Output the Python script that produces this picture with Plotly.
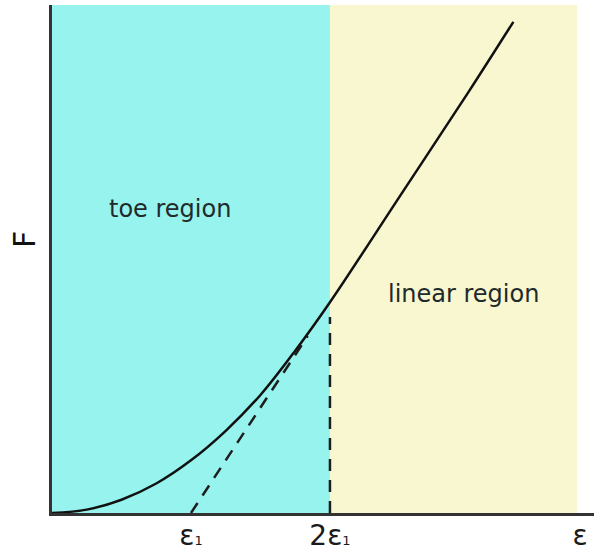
import plotly.graph_objects as go

# Force–strain curve (strain in units of ε1, force in units of F(2ε1))
strain = [0.0, 0.25, 0.5, 0.75, 1.0, 1.25, 1.5, 1.75, 2.0, 2.5, 3.0, 3.32]
force = [0.0, 0.016, 0.063, 0.14, 0.25, 0.39, 0.56, 0.77, 1.0, 1.5, 2.0, 2.33]

# Tangent (dashed) from ε1 towards 2ε1
tangent_strain = [1.0, 1.84]
tangent_force = [0.0, 0.84]

# Vertical dashed marker at 2ε1
marker_strain = [2.0, 2.0]
marker_force = [0.0, 0.93]

# Regions
region_names = ["toe region", "linear region"]
region_start = [0.0, 2.0]
region_end = [2.0, 3.78]
region_colors = ["#97F3EE", "#F8F7D0"]
label_pos_x = [0.85, 2.96]
label_pos_y = [1.44, 1.04]

tick_vals = [1.0, 2.0, 3.8]
tick_text = [
    "ε<span style='font-size:13px'>1</span>",
    "2ε<span style='font-size:13px'>1</span>",
    "ε",
]

fig = go.Figure()

fig.add_trace(go.Scatter(
    x=tangent_strain, y=tangent_force, mode="lines",
    line=dict(color="#1e1e1e", width=2.5, dash="12px,9px"),
    hoverinfo="skip", showlegend=False))
fig.add_trace(go.Scatter(
    x=marker_strain, y=marker_force, mode="lines",
    line=dict(color="#1e1e1e", width=2.5, dash="12px,9px"),
    hoverinfo="skip", showlegend=False))
fig.add_trace(go.Scatter(
    x=strain, y=force, mode="lines",
    line=dict(color="#111111", width=2.5, shape="spline", smoothing=1.0),
    showlegend=False))

for x0, x1, c in zip(region_start, region_end, region_colors):
    fig.add_shape(type="rect", xref="x", yref="paper", x0=x0, x1=x1, y0=0, y1=1,
                  fillcolor=c, line=dict(width=0), layer="below")

for name, lx, ly in zip(region_names, label_pos_x, label_pos_y):
    fig.add_annotation(x=lx, y=ly, xref="x", yref="y", text=name, showarrow=False,
                       font=dict(family="DejaVu Sans", size=24, color="#1f2a2a"))

fig.add_annotation(x=-27 / 542, y=(513 - 240) / 508, xref="paper", yref="paper",
                   xanchor="center", yanchor="middle",
                   text="F", textangle=-90, showarrow=False,
                   font=dict(family="DejaVu Sans", size=30, color="#111111"))

fig.update_layout(
    width=594, height=553,
    margin=dict(l=52, r=0, t=5, b=40, autoexpand=False),
    paper_bgcolor="white", plot_bgcolor="white",
    xaxis=dict(range=[0, 3.9], showgrid=False, zeroline=False, automargin=False,
               showline=True, linecolor="#333333", linewidth=2.5,
               tickvals=tick_vals, ticktext=tick_text, ticks="",
               ticklabelstandoff=-4,
               tickfont=dict(family="DejaVu Sans", size=28, color="#1a1a1a")),
    yaxis=dict(range=[0, 2.41], showgrid=False, zeroline=False, automargin=False,
               showline=True, linecolor="#333333", linewidth=2.5,
               showticklabels=False, ticks=""),
)

fig.write_html("out.html", config={"displayModeBar": False},
               post_script="document.body.style.margin='0px';document.body.style.overflow='hidden';")
